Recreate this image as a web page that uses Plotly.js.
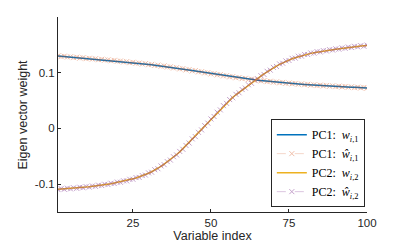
<!DOCTYPE html>
<html><head><meta charset="utf-8">
<script src="https://cdn.plot.ly/plotly-3.0.1.min.js"></script>
<style>html,body{margin:0;padding:0;background:#fff}#chart{width:415px;height:245px}</style>
</head><body><div id="chart"></div>
<script>
const idx = Array.from({length: 100}, (_, i) => i + 1);
const pc1 = [0.1300,0.1295,0.1290,0.1285,0.1280,0.1276,0.1272,0.1267,0.1263,0.1258,
0.1254,0.1249,0.1244,0.1240,0.1235,0.1230,0.1225,0.1220,0.1215,0.1210,
0.1204,0.1198,0.1192,0.1186,0.1180,0.1174,0.1168,0.1162,0.1156,0.1150,
0.1143,0.1136,0.1129,0.1122,0.1115,0.1107,0.1099,0.1091,0.1083,0.1075,
0.1066,0.1057,0.1048,0.1039,0.1030,0.1021,0.1012,0.1003,0.0994,0.0985,
0.0976,0.0967,0.0958,0.0949,0.0940,0.0932,0.0924,0.0916,0.0908,0.0900,
0.0893,0.0886,0.0879,0.0872,0.0865,0.0859,0.0853,0.0847,0.0841,0.0835,
0.0830,0.0825,0.0820,0.0815,0.0810,0.0806,0.0802,0.0798,0.0794,0.0790,
0.0786,0.0782,0.0778,0.0775,0.0772,0.0768,0.0765,0.0762,0.0759,0.0756,
0.0753,0.0750,0.0747,0.0744,0.0741,0.0738,0.0735,0.0732,0.0729,0.0726];
const pc1Hat = [0.1303,0.1289,0.1297,0.1281,0.1286,0.1271,0.1279,0.1262,0.1270,0.1252,
0.1259,0.1244,0.1251,0.1233,0.1241,0.1226,0.1231,0.1214,0.1222,0.1205,
0.1210,0.1192,0.1199,0.1180,0.1187,0.1169,0.1174,0.1155,0.1163,0.1143,
0.1150,0.1130,0.1137,0.1115,0.1123,0.1101,0.1106,0.1084,0.1091,0.1068,
0.1073,0.1050,0.1056,0.1032,0.1038,0.1014,0.1019,0.0996,0.1001,0.0978,
0.0983,0.0960,0.0966,0.0942,0.0947,0.0925,0.0931,0.0909,0.0914,0.0894,
0.0899,0.0879,0.0886,0.0865,0.0871,0.0852,0.0859,0.0840,0.0847,0.0829,
0.0836,0.0818,0.0826,0.0809,0.0816,0.0800,0.0808,0.0792,0.0800,0.0784,
0.0792,0.0776,0.0784,0.0769,0.0778,0.0762,0.0771,0.0756,0.0765,0.0750,
0.0759,0.0744,0.0753,0.0738,0.0747,0.0732,0.0741,0.0726,0.0735,0.0721];
const pc2 = [-0.1090,-0.1087,-0.1084,-0.1080,-0.1076,-0.1072,-0.1067,-0.1062,-0.1057,-0.1051,
-0.1045,-0.1039,-0.1032,-0.1025,-0.1017,-0.1009,-0.1000,-0.0991,-0.0981,-0.0970,
-0.0959,-0.0947,-0.0934,-0.0920,-0.0905,-0.0889,-0.0871,-0.0851,-0.0829,-0.0805,
-0.0778,-0.0748,-0.0715,-0.0680,-0.0642,-0.0602,-0.0560,-0.0515,-0.0468,-0.0420,
-0.0362,-0.0306,-0.0250,-0.0194,-0.0138,-0.0078,-0.0018,0.0042,0.0102,0.0162,
0.0222,0.0282,0.0342,0.0401,0.0459,0.0510,0.0558,0.0604,0.0648,0.0690,
0.0733,0.0776,0.0818,0.0859,0.0899,0.0940,0.0980,0.1018,0.1054,0.1088,
0.1120,0.1150,0.1178,0.1204,0.1228,0.1250,0.1270,0.1288,0.1305,0.1320,
0.1334,0.1347,0.1359,0.1370,0.1380,0.1389,0.1398,0.1406,0.1414,0.1421,
0.1430,0.1438,0.1446,0.1453,0.1460,0.1466,0.1472,0.1478,0.1483,0.1488];
const pc2Hat = [-0.1098,-0.1080,-0.1093,-0.1073,-0.1085,-0.1065,-0.1076,-0.1055,-0.1065,-0.1044,
-0.1053,-0.1032,-0.1040,-0.1018,-0.1025,-0.1002,-0.1008,-0.0984,-0.0989,-0.0963,
-0.0967,-0.0940,-0.0942,-0.0913,-0.0912,-0.0882,-0.0879,-0.0846,-0.0837,-0.0798,
-0.0786,-0.0741,-0.0723,-0.0673,-0.0650,-0.0595,-0.0568,-0.0508,-0.0476,-0.0413,
-0.0374,-0.0306,-0.0262,-0.0187,-0.0147,-0.0070,-0.0027,0.0050,0.0095,0.0170,
0.0214,0.0291,0.0333,0.0409,0.0450,0.0518,0.0550,0.0612,0.0640,0.0698,
0.0725,0.0784,0.0809,0.0867,0.0891,0.0947,0.0969,0.1025,0.1046,0.1096,
0.1112,0.1158,0.1170,0.1212,0.1220,0.1258,0.1262,0.1296,0.1297,0.1328,
0.1326,0.1355,0.1351,0.1378,0.1372,0.1397,0.1390,0.1414,0.1406,0.1429,
0.1422,0.1446,0.1438,0.1461,0.1452,0.1474,0.1464,0.1486,0.1475,0.1496];
const names = ['PC1:  <i>w</i><sub><i>i</i>,1</sub>', 'PC1:  <i>ŵ</i><sub><i>i</i>,1</sub>',
               'PC2:  <i>w</i><sub><i>i</i>,2</sub>', 'PC2:  <i>ŵ</i><sub><i>i</i>,2</sub>'];
const xTicks = [25, 50, 75, 100];
const yTicks = [-0.1, 0, 0.1];
const yTickText = ['-0.1', '0', '0.1'];
const yTitle = 'Eigen vector weight';

const traces = [
  {x: idx, y: pc1, name: names[0], mode: 'lines', line: {color: '#0072BD', width: 1.5}},
  {x: idx, y: pc1Hat, name: names[1], mode: 'lines+markers', opacity: 0.38,
   line: {color: '#D95319', width: 0.6, dash: 'dash'},
   marker: {symbol: 'x-thin-open', size: 5, line: {color: '#D95319', width: 1}}},
  {x: idx, y: pc2, name: names[2], mode: 'lines', line: {color: '#EDB120', width: 1.5}},
  {x: idx, y: pc2Hat, name: names[3], mode: 'lines+markers', opacity: 0.45,
   line: {color: '#7E2F8E', width: 0.6, dash: 'dash'},
   marker: {symbol: 'x-thin-open', size: 5, line: {color: '#7E2F8E', width: 1}}}
];
const axisCommon = {showgrid: false, zeroline: false, showline: true, linecolor: '#262626', linewidth: 1,
  ticks: 'inside', ticklen: 3, tickcolor: '#262626', mirror: false,
  tickfont: {family: 'Liberation Sans, Arial, sans-serif', size: 11.5, color: '#262626'}};
const layout = {
  width: 415, height: 245,
  margin: {l: 58, r: 48, t: 17, b: 33},
  paper_bgcolor: '#fff', plot_bgcolor: '#fff',
  showlegend: true,
  xaxis: Object.assign({}, axisCommon, {range: [1, 100], tickvals: xTicks,
    title: {text: 'Variable index', standoff: 2, font: {family: 'Liberation Sans, Arial, sans-serif', size: 12.5, color: '#262626'}}}),
  yaxis: Object.assign({}, axisCommon, {range: [-0.15, 0.2], tickvals: yTicks, ticktext: yTickText}),
  annotations: [{text: yTitle, xref: 'paper', yref: 'paper', x: -0.1165, y: 0.5,
    xanchor: 'center', yanchor: 'middle', textangle: -90, showarrow: false,
    font: {family: 'Liberation Sans, Arial, sans-serif', size: 12.5, color: '#262626'}}],
  legend: {x: 0.993, xanchor: 'right', y: 0.025, yanchor: 'bottom', bgcolor: '#fff',
    bordercolor: '#262626', borderwidth: 1, itemwidth: 30, tracegroupgap: 0,
    font: {family: 'Liberation Serif, DejaVu Serif, serif', size: 12, color: '#000'}}
};
Plotly.newPlot('chart', traces, layout, {staticPlot: true, displayModeBar: false});
</script>
</body></html>
